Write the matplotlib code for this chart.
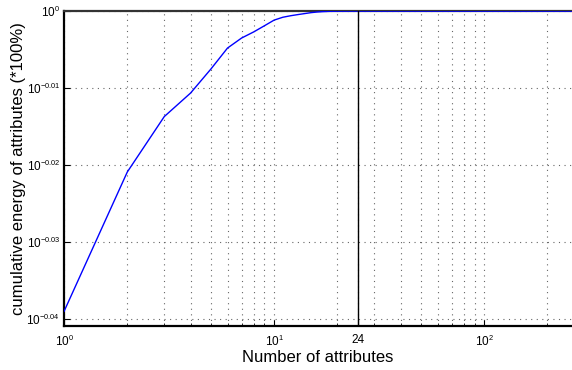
import matplotlib
matplotlib.use('Agg')
import matplotlib.pyplot as plt
from matplotlib import _mathtext
from matplotlib.ticker import FixedLocator, FixedFormatter, NullLocator

plt.rcParams['font.family'] = ['Liberation Sans', 'DejaVu Sans']
plt.rcParams['mathtext.fontset'] = 'custom'
plt.rcParams['mathtext.rm'] = 'Liberation Sans'
plt.rcParams['mathtext.it'] = 'Liberation Sans:italic'
# smaller exponents, closer to the original look
_mathtext.SHRINK_FACTOR = 0.62

# data (cumulative energy, as a fraction)
n_attr = [1, 2, 3, 4, 5, 6, 7, 8, 9, 10, 11, 12, 13, 14, 15, 16, 17, 18, 19, 20, 24, 262]
energy = [10 ** -0.0390, 10 ** -0.0209, 10 ** -0.0137, 10 ** -0.01065, 10 ** -0.00753,
          10 ** -0.0048, 10 ** -0.0035, 10 ** -0.0027, 10 ** -0.0019, 10 ** -0.00117,
          10 ** -0.0008, 10 ** -0.0006, 10 ** -0.00045, 10 ** -0.00032, 10 ** -0.0002,
          10 ** -0.00012, 10 ** -0.00007, 10 ** -0.00004, 10 ** -0.00002, 10 ** -0.00001,
          1.0, 1.0]

cut_x = 25
cut_label = '24'

x_ticks = [1, 10, cut_x, 100]
x_labels = ['$10^0$', '$10^1$', cut_label, '$10^2$']
x_minor = [2, 3, 4, 5, 6, 7, 8, 9, 20, 30, 40, 50, 60, 70, 80, 90, 200]
y_exp = [-0.04, -0.03, -0.02, -0.01, 0]
y_labels = ['$10^{-0.04}$', '$10^{-0.03}$', '$10^{-0.02}$', '$10^{-0.01}$', '$10^{0}$']

fig = plt.figure(figsize=(5.72, 3.70), dpi=100)
ax = fig.add_axes([0.112, 0.119, 0.888, 0.851])

ax.plot(n_attr, energy, color='blue', lw=1.0, zorder=3)
ax.axvline(cut_x, color='black', lw=1.0, zorder=4)

ax.set_xscale('log')
ax.set_yscale('log')
ax.set_xlim(1, 262)
ax.set_ylim(10 ** -0.0409, 1.0)

ax.xaxis.set_major_locator(FixedLocator(x_ticks))
ax.xaxis.set_major_formatter(FixedFormatter(x_labels))
ax.xaxis.set_minor_locator(FixedLocator(x_minor))
ax.yaxis.set_major_locator(FixedLocator([10 ** e for e in y_exp]))
ax.yaxis.set_major_formatter(FixedFormatter(y_labels))
ax.yaxis.set_minor_locator(NullLocator())
ax.xaxis.set_minor_formatter(FixedFormatter([''] * len(x_minor)))

ax.grid(True, which='both', axis='x', linestyle=(0, (1, 4)), color='#666666', lw=0.8)
ax.grid(True, which='major', axis='y', linestyle=(0, (1, 4)), color='#666666', lw=0.8)

ax.tick_params(which='both', direction='in', labelsize=8.5, colors='black')
ax.tick_params(which='major', length=4)
ax.tick_params(which='minor', length=2)
ax.tick_params(axis='x', pad=6)
ax.tick_params(axis='y', pad=3)

for s in ['left', 'bottom', 'top']:
    ax.spines[s].set_linewidth(1.6)
ax.spines['top'].set_color('#333333')
ax.spines['right'].set_visible(False)

ax.set_xlabel('Number of attributes', fontsize=12, labelpad=1)
ax.set_ylabel('cumulative energy of attributes (*100%)', fontsize=12)
ax.yaxis.set_label_coords(-0.075, 0.5)

fig.savefig('out.png', dpi=100)
